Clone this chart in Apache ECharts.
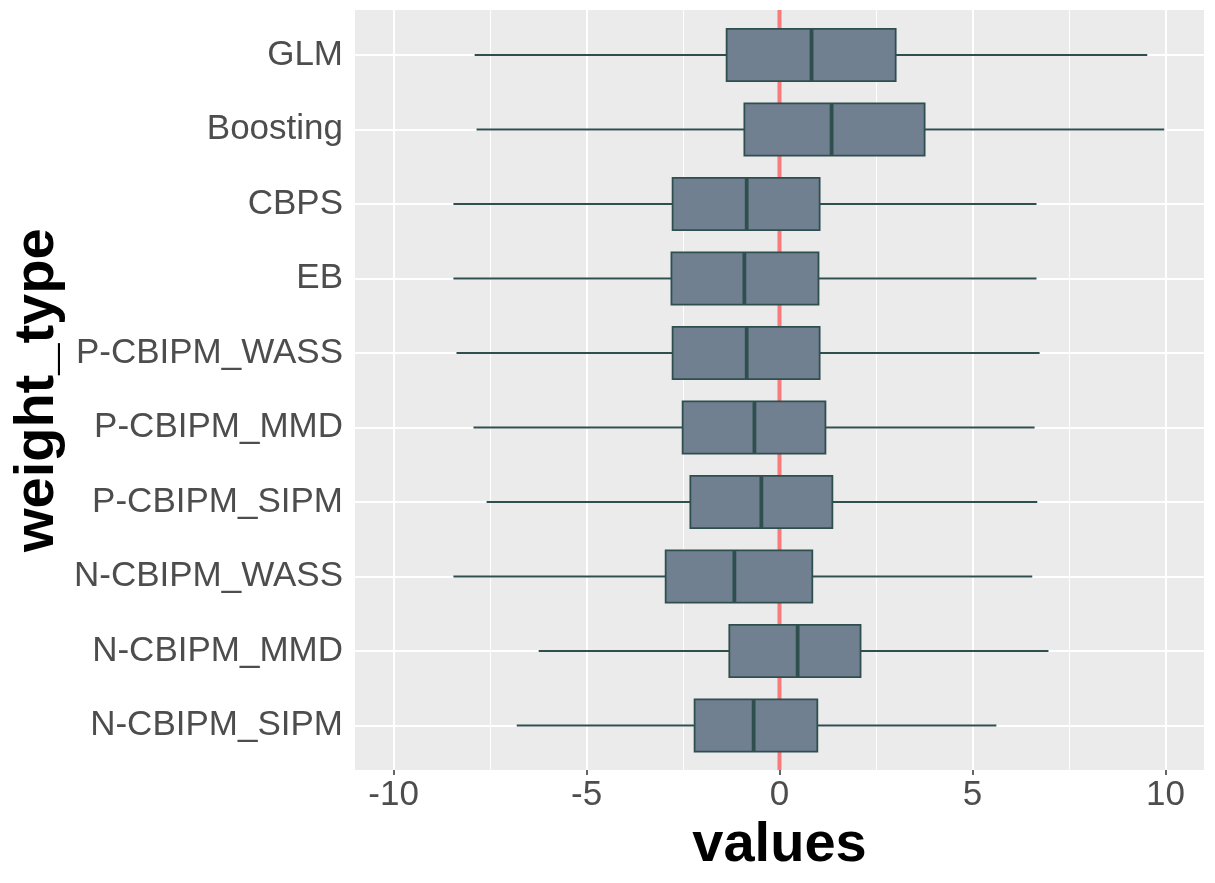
<!DOCTYPE html>
<html>
<head>
<meta charset="utf-8">
<script src="https://cdn.jsdelivr.net/npm/echarts@6/dist/echarts.min.js"></script>
<style>
  html, body { margin: 0; padding: 0; background: #ffffff; }
  #chart-container { width: 1215px; height: 883px; }
</style>
</head>
<body>
<div id="chart-container"></div>
<script>
// boxplot stats, top to bottom
var categories = ['GLM', 'Boosting', 'CBPS', 'EB', 'P-CBIPM_WASS', 'P-CBIPM_MMD',
  'P-CBIPM_SIPM', 'N-CBIPM_WASS', 'N-CBIPM_MMD', 'N-CBIPM_SIPM'];
var whiskerLow  = [-7.90, -7.85, -8.45, -8.45, -8.37, -7.93, -7.59, -8.45, -6.24, -6.81];
var q1          = [-1.37, -0.91, -2.77, -2.80, -2.77, -2.51, -2.31, -2.95, -1.30, -2.20];
var median      = [ 0.83,  1.35, -0.85, -0.91, -0.85, -0.65, -0.47, -1.17,  0.47, -0.67];
var q3          = [ 3.01,  3.76,  1.04,  1.01,  1.04,  1.19,  1.37,  0.85,  2.10,  0.98];
var whiskerHigh = [ 9.53,  9.97,  6.66,  6.66,  6.74,  6.61,  6.68,  6.55,  6.97,  5.62];

var xTicks = [-10, -5, 0, 5, 10];
var xMinorTicks = [-7.5, -2.5, 2.5, 7.5];
var refLine = 0;

var boxData = categories.map(function (c, i) {
  return [whiskerLow[i], q1[i], median[i], q3[i], whiskerHigh[i], i];
});

function renderBox(params, api) {
  var y = api.value(5);
  var lo = api.coord([api.value(0), y]);
  var a = api.coord([api.value(1), y]);
  var m = api.coord([api.value(2), y]);
  var b = api.coord([api.value(3), y]);
  var hi = api.coord([api.value(4), y]);
  var h = api.size([0, 1])[1] * 0.7;
  var cy = a[1];
  return {
    type: 'group',
    children: [
      { type: 'line', shape: { x1: lo[0], y1: cy, x2: a[0], y2: cy },
        style: { stroke: '#2F4F4F', lineWidth: 1.8 } },
      { type: 'line', shape: { x1: b[0], y1: cy, x2: hi[0], y2: cy },
        style: { stroke: '#2F4F4F', lineWidth: 1.8 } },
      { type: 'rect', shape: { x: a[0], y: cy - h / 2, width: b[0] - a[0], height: h },
        style: { fill: '#708090', stroke: '#2F4F4F', lineWidth: 1.8 } },
      { type: 'line', shape: { x1: m[0], y1: cy - h / 2, x2: m[0], y2: cy + h / 2 },
        style: { stroke: '#2F4F4F', lineWidth: 3.8 } }
    ]
  };
}

var dom = document.getElementById('chart-container');
var myChart = echarts.init(dom, null, { renderer: 'canvas' });

var option = {
  animation: false,
  textStyle: { fontFamily: 'Liberation Sans, Arial, sans-serif' },
  grid: [
    { left: 355, right: 11, top: 10, bottom: 113, show: true, backgroundColor: '#EBEBEB',
      borderWidth: 0, outerBoundsMode: 'none' },
    { left: 355, right: 11, top: 55, height: 670.5, outerBoundsMode: 'none' }
  ],
  xAxis: [
    {
      gridIndex: 0, type: 'value', min: -11, max: 11,
      axisLine: { show: false },
      axisTick: { show: true, customValues: xTicks, length: 5,
        lineStyle: { color: '#333333', width: 1.5 } },
      axisLabel: { customValues: xTicks, fontSize: 35, color: '#4D4D4D', margin: 8 },
      splitLine: { show: true, lineStyle: { color: '#ffffff', width: 2 } },
      name: 'values', nameLocation: 'middle', nameGap: 48, nameMoveOverlap: false,
      nameTextStyle: { fontSize: 56, fontWeight: 'bold', color: '#000000' }
    },
    {
      gridIndex: 0, type: 'value', min: -11, max: 11,
      axisLine: { show: false },
      axisTick: { show: false, customValues: xMinorTicks },
      axisLabel: { show: false },
      splitLine: { show: true, lineStyle: { color: '#ffffff', width: 1 } }
    },
    { gridIndex: 1, type: 'value', min: -11, max: 11, show: false }
  ],
  yAxis: [
    { gridIndex: 0, type: 'value', min: 0, max: 1, show: false },
    {
      gridIndex: 1, type: 'category', data: categories, inverse: true, boundaryGap: false,
      axisLine: { show: false },
      axisTick: { show: true, interval: 0, length: 6,
        lineStyle: { color: '#333333', width: 1.5 } },
      axisLabel: { interval: 0, fontSize: 35, color: '#4D4D4D', margin: 12,
        padding: [5, 0, 0, 0] },
      splitLine: { show: true, interval: 0, lineStyle: { color: '#ffffff', width: 2 } },
      name: 'weight_type', nameLocation: 'middle', nameRotate: 90, nameGap: 289,
      nameMoveOverlap: false,
      nameTextStyle: { fontSize: 56, fontWeight: 'bold', color: '#000000' }
    }
  ],
  series: [
    {
      type: 'line', xAxisIndex: 0, yAxisIndex: 0,
      data: [[refLine, 0], [refLine, 1]],
      symbol: 'none', silent: true, z: 1,
      lineStyle: { color: '#F77B7B', width: 4 }
    },
    {
      type: 'custom', xAxisIndex: 2, yAxisIndex: 1,
      data: boxData,
      encode: { x: [0, 1, 2, 3, 4], y: 5 },
      renderItem: renderBox,
      z: 4
    }
  ]
};

myChart.setOption(option);
window.addEventListener('resize', myChart.resize);
</script>
</body>
</html>
